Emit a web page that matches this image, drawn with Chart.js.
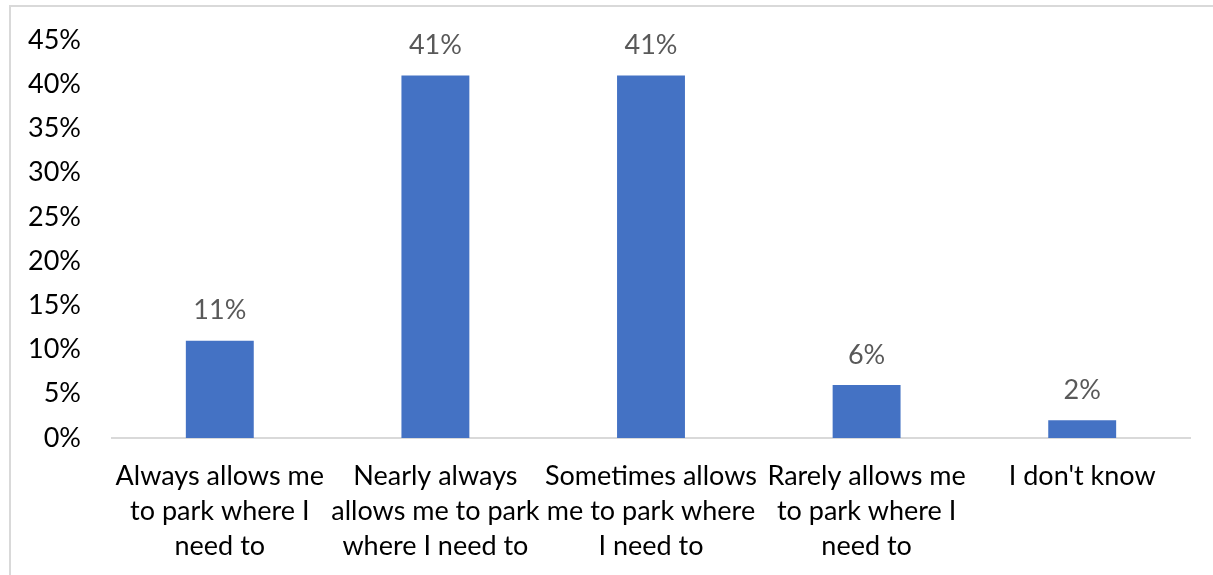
<!DOCTYPE html>
<html>
<head>
<meta charset="utf-8">
<script src="https://cdn.jsdelivr.net/npm/chart.js@4/dist/chart.umd.min.js"></script>
<style>
  html, body { margin: 0; padding: 0; background: #fff; overflow: hidden; }
  #frame { position: absolute; left: 9px; top: 5px; width: 1400px; height: 800px;
           border: 2px solid #d9d9d9; box-sizing: border-box; }
  #wrap { position: absolute; left: 0; top: 0; width: 1213px; height: 575px; }
</style>
</head>
<body>
<div id="frame"></div>
<div id="wrap"><canvas id="chart" width="1213" height="575"></canvas></div>
<script>
// Survey answers and their shares (percent)
const categories = [
  ["Always allows me", "to park where I", "need to"],
  ["Nearly always", "allows me to park", "where I need to"],
  ["Sometimes allows", "me to park where", "I need to"],
  ["Rarely allows me", "to park where I", "need to"],
  ["I don't know"]
];
const shares = [11, 41, 41, 6, 2];
const yTicks = [0, 5, 10, 15, 20, 25, 30, 35, 40, 45];

const FONT = "Lato";
const FSIZE = 27;

// Writes each bar's percentage above it
const valueLabels = {
  id: 'valueLabels',
  afterDatasetsDraw(chart) {
    const ctx = chart.ctx;
    const meta = chart.getDatasetMeta(0);
    ctx.save();
    ctx.font = FSIZE + "px " + FONT;
    ctx.fillStyle = "#595959";
    ctx.textAlign = "center";
    ctx.textBaseline = "middle";
    meta.data.forEach((bar, i) => {
      ctx.fillText(shares[i] + "%", bar.x, bar.y - 30);
    });
    ctx.restore();
  }
};

new Chart(document.getElementById('chart'), {
  type: 'bar',
  data: {
    labels: categories,
    datasets: [{
      data: shares,
      backgroundColor: '#4472C4',
      borderWidth: 0,
      barPercentage: 0.315,
      categoryPercentage: 1.0
    }]
  },
  options: {
    responsive: false,
    animation: false,
    events: [],
    layout: { padding: { top: 40, right: 23, left: 0, bottom: 0 } },
    plugins: { legend: { display: false }, tooltip: { enabled: false } },
    scales: {
      x: {
        grid: { display: false, drawTicks: false },
        border: { display: true, color: '#d9d9d9', width: 2 },
        ticks: {
          color: '#000',
          font: { family: FONT, size: FSIZE, lineHeight: 35 / FSIZE },
          padding: 21,
          maxRotation: 0,
          autoSkip: false
        },
        afterFit(scale) { scale.height = 137; }
      },
      y: {
        min: 0, max: 45,
        afterBuildTicks(scale) { scale.ticks = yTicks.map(v => ({ value: v })); },
        grid: { display: false, drawTicks: false },
        border: { display: false },
        ticks: {
          color: '#000',
          font: { family: FONT, size: FSIZE },
          padding: 31,
          callback: v => v + '%'
        },
        afterFit(scale) {
          scale.width = 112;
          // keep the plot top at the layout padding
          scale.paddingTop = 0;
          scale.paddingBottom = 0;
        }
      }
    }
  },
  plugins: [valueLabels]
});
</script>
</body>
</html>
